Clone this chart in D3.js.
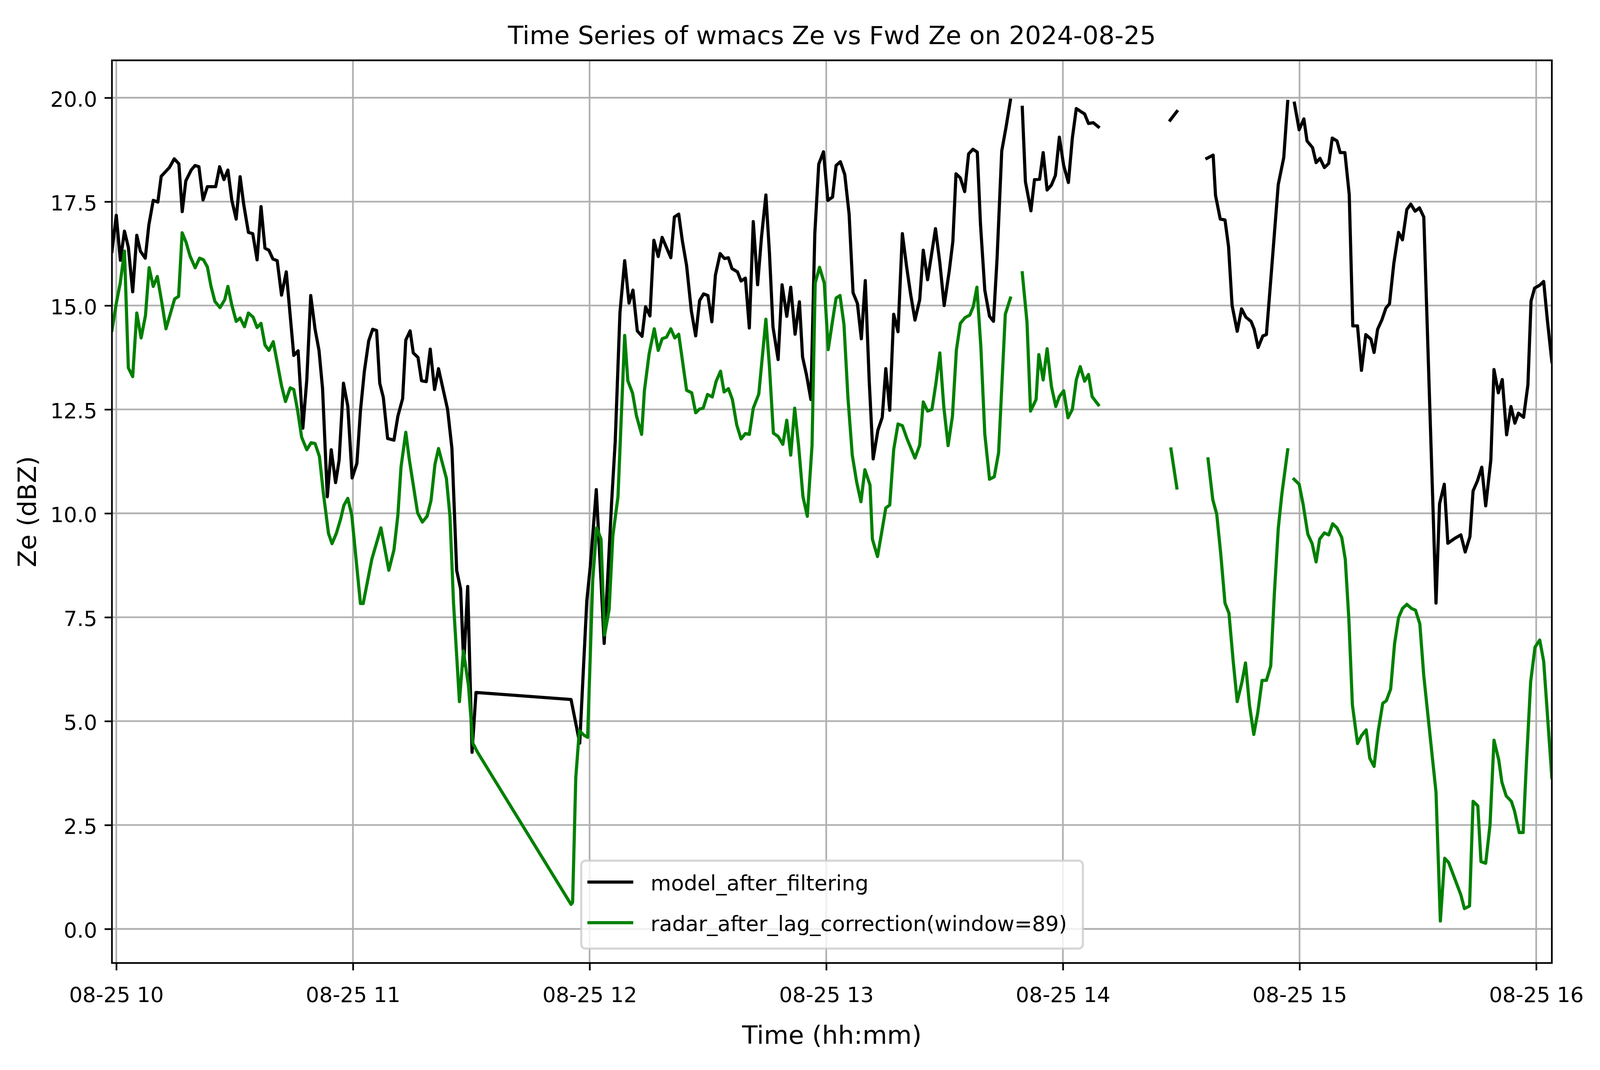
<!DOCTYPE html>
<html>
<head>
<meta charset="utf-8">
<script src="https://cdn.jsdelivr.net/npm/d3@7"></script>
<style>
  html, body { margin: 0; padding: 0; background: #ffffff; width: 100%; height: 100%; overflow: hidden; }
  svg { display: block; }
</style>
</head>
<body>
<svg id="chart"></svg>
<script>
// ---------------- DATA ----------------
// minutes after 2024-08-25 10:00 ; null = missing sample (gap in the line)
const modelMinutes = [-1.1,0,1.04,2.08,3.06,4.16,5.2,6.1,7.35,8.26,9.37,10.54,11.39,13.47,14.7,15.87,16.72,17.63,19.0,19.97,
  20.95,22.0,23.1,25.2,26.2,27.3,28.3,29.3,30.4,31.4,32.3,33.5,34.6,35.7,36.7,37.7,38.7,39.7,40.8,41.9,
  43.1,45.0,46.1,47.3,48.3,49.3,50.4,51.4,52.3,53.5,54.5,55.6,56.5,57.6,58.7,59.8,61.0,61.9,62.9,64.0,
  65.0,66.0,66.8,67.7,68.8,70.4,71.4,72.6,73.4,74.5,75.3,76.5,77.4,78.6,79.6,80.7,81.7,84.0,85.1,86.3,
  87.3,88.1,89.1,90.2,91.2,115.3,117.5,119.3,120.2,121.7,122.7,123.7,124.7,125.6,126.5,127.7,128.9,130.0,131.0,132.1,
  133.3,134.2,135.3,136.3,137.4,138.4,140.6,141.5,142.6,143.5,144.6,145.8,146.9,147.9,148.9,150.0,151.0,151.9,153.1,154.2,
  155.2,156.1,157.5,158.4,159.5,160.5,161.5,162.6,163.6,164.7,165.6,166.5,167.8,168.8,170.0,171.0,172.1,173.2,174.0,175.0,
  176.1,177.1,178.1,179.3,180.4,181.6,182.5,183.6,184.7,185.8,186.8,187.9,188.9,189.9,190.9,191.9,193.1,194.2,195.1,196.1,
  197.1,198.2,199.3,200.4,201.4,202.5,203.7,204.6,205.7,206.7,207.7,208.8,209.9,211.2,212.1,212.9,214.0,215.1,216.1,217.2,
  218.3,219.1,220.2,221.4,222.4,223.3,224.5,225.6,226.7,228.2,229.7,230.5,231.9,232.8,234.1,235.0,236.0,237.1,238.1,239.1,
  240.2,241.4,242.4,243.4,244.5,245.5,246.5,247.7,249.0,258.0,267.2,268.9,272.5,276.5,278.1,278.7,279.9,281.1,282.0,282.9,
  284.2,285.3,286.4,287.7,288.5,289.5,290.7,291.6,292.8,294.6,296.0,297.0,297.9,298.7,299.9,301.1,301.9,303.3,304.2,305.2,
  306.3,307.4,308.3,309.5,310.3,311.5,312.6,313.5,314.7,315.7,316.8,318.1,318.9,319.8,320.9,321.9,322.8,323.9,325.1,326.1,
  327.2,328.2,329.3,330.4,331.5,334.6,335.5,336.7,337.6,339.4,340.9,342.0,343.2,344.0,345.1,346.2,347.2,348.5,349.3,350.4,
  351.4,352.5,353.6,354.6,355.5,356.8,357.9,358.7,359.6,360.9,361.9,362.8,363.97];
const modelZe = [16.3,17.17,16.09,16.79,16.40,15.33,16.69,16.31,16.14,16.94,17.53,17.49,18.11,18.32,18.53,18.41,17.26,18.0,18.26,18.37,
  18.34,17.54,17.86,17.86,18.34,18.03,18.26,17.53,17.08,18.1,17.44,16.76,16.73,16.1,17.38,16.38,16.33,16.12,16.08,15.25,
  15.81,13.80,13.91,12.05,13.21,15.24,14.43,13.92,13.0,10.40,11.53,10.74,11.28,13.13,12.58,10.85,11.2,12.46,13.42,14.15,
  14.43,14.40,13.13,12.79,11.80,11.76,12.34,12.76,14.17,14.39,13.86,13.75,13.19,13.17,13.95,12.98,13.48,12.5,11.56,8.63,
  8.18,6.35,8.24,4.25,5.69,5.52,4.47,7.90,8.74,10.57,8.74,6.87,8.63,10.29,11.73,14.83,16.08,15.06,15.37,14.39,
  14.26,14.97,14.75,16.57,16.18,16.64,16.15,17.13,17.2,16.57,15.96,14.87,14.27,15.12,15.28,15.24,14.61,15.73,16.25,16.13,
  16.15,15.89,15.81,15.59,15.66,14.46,17.02,15.5,16.66,17.66,16.27,14.48,13.70,15.5,14.74,15.44,14.31,15.09,13.76,13.33,
  12.74,16.72,18.4,18.7,17.53,17.61,18.37,18.46,18.15,17.2,15.31,15.05,14.2,15.6,13.18,11.31,12.0,12.31,13.48,12.48,
  14.79,14.37,16.73,15.92,15.27,14.65,15.14,16.33,15.62,16.23,16.85,16.03,15.0,15.84,16.54,18.17,18.07,17.74,18.65,18.76,
  18.69,16.97,15.37,14.74,14.62,16.11,18.72,19.30,19.94,null,19.77,17.98,17.28,18.03,18.04,18.68,17.78,17.90,18.13,19.05,
  18.37,17.96,19.03,19.74,19.67,19.61,19.38,19.40,19.30,null,19.46,19.67,null,18.54,18.62,17.65,17.08,17.06,16.42,15.0,
  14.38,14.92,14.72,14.62,14.43,13.99,14.27,14.30,15.73,17.91,18.56,19.91,null,19.87,19.23,19.49,18.96,18.80,18.44,18.54,
  18.32,18.42,19.03,18.96,18.68,18.68,17.67,14.51,14.51,13.44,14.30,14.19,13.87,14.43,14.66,14.94,15.04,16.01,16.76,16.58,
  17.31,17.44,17.27,17.35,17.13,7.84,10.23,10.70,9.28,9.40,9.48,9.07,9.44,10.54,10.78,11.11,10.18,11.28,13.46,12.90,
  13.22,11.89,12.57,12.17,12.41,12.31,13.09,15.11,15.42,15.49,15.58,14.68,13.65];

const radarMinutes = [-1.1,0,1.0,2.08,3.06,4.16,5.2,6.3,7.4,8.33,9.37,10.4,11.5,12.6,13.7,14.8,15.8,16.7,17.7,18.7,
  20.0,21.1,22.1,23.1,24.0,25.0,26.3,27.5,28.3,29.3,30.4,31.4,32.5,33.5,34.7,35.7,36.7,37.7,38.7,39.8,
  40.8,41.9,42.9,44.1,45.0,46.0,47.0,48.3,49.4,50.4,51.5,52.5,53.8,54.7,55.8,56.9,57.7,58.7,59.7,61.9,
  62.6,64.8,67.1,69.1,70.4,71.4,72.2,73.4,74.3,76.4,77.6,78.8,79.8,80.8,81.7,83.7,84.6,85.5,87.0,88.0,
  89.3,90.4,91.6,115.3,115.7,116.5,117.4,118.6,119.5,120.8,121.8,122.9,123.8,124.95,125.9,127.2,128.9,129.7,130.9,131.9,
  133.2,133.9,135.1,136.4,137.4,138.4,139.5,140.6,141.6,142.6,144.6,145.9,146.9,147.9,148.8,149.9,151.1,152.1,153.2,154.1,
  155.2,156.2,157.3,158.4,159.5,160.5,161.5,162.9,164.7,165.6,166.6,167.8,169.0,170.0,171.0,172.0,173.0,174.1,175.2,176.4,
  177.2,178.3,179.5,180.5,181.5,182.5,183.5,184.5,185.5,186.6,187.7,188.8,189.8,191.1,191.7,193.0,194.0,195.1,196.1,197.1,
  198.2,199.3,200.5,202.5,203.7,204.6,205.7,206.8,207.8,208.8,209.8,210.9,212.0,213.0,214.0,215.2,216.4,217.3,218.2,219.2,
  220.2,221.4,222.6,223.7,225.4,226.7,228.2,229.7,230.9,231.8,233.2,233.9,235.0,236.0,237.1,238.2,239.1,240.2,241.3,242.4,
  243.4,244.4,245.5,246.5,247.4,249.0,258.0,267.4,268.9,272.5,276.8,278.0,279.0,280.0,281.1,282.1,283.2,284.2,285.4,286.3,
  287.3,288.4,289.4,290.5,291.6,292.7,293.6,294.6,295.5,297.0,297.9,298.6,299.9,300.9,302.1,303.2,304.2,305.1,306.3,307.4,
  308.4,309.5,310.7,311.6,312.5,313.4,314.7,315.7,316.9,317.8,318.9,319.9,321.1,322.0,323.1,324.1,325.1,326.1,327.2,328.4,
  329.4,330.5,331.5,334.6,335.7,336.8,337.8,340.9,341.8,343.1,344.0,345.2,346.0,347.2,348.3,349.3,350.5,351.3,352.4,353.7,
  354.5,355.7,356.7,357.5,358.6,359.7,360.9,361.9,363.97];
const radarZe = [14.4,15.05,15.54,16.31,13.50,13.29,14.82,14.22,14.76,15.91,15.46,15.70,15.10,14.44,14.80,15.16,15.22,16.75,16.52,16.19,
  15.91,16.14,16.10,15.93,15.47,15.10,14.95,15.14,15.46,15.01,14.62,14.70,14.49,14.82,14.72,14.47,14.57,14.05,13.92,14.13,
  13.63,13.07,12.69,13.02,12.98,12.46,11.83,11.53,11.70,11.68,11.37,10.49,9.52,9.27,9.52,9.87,10.19,10.36,9.96,7.83,
  7.83,8.9,9.65,8.63,9.12,9.96,11.12,11.95,11.29,10.01,9.79,9.93,10.31,11.18,11.56,10.84,9.93,7.85,5.47,6.69,
  5.85,4.47,4.25,0.59,0.64,3.64,4.77,4.66,4.61,8.40,9.65,9.38,7.07,7.68,9.46,10.40,14.28,13.19,12.89,12.34,
  11.90,12.95,13.84,14.44,13.92,14.2,14.24,14.44,14.22,14.31,12.96,12.9,12.42,12.51,12.53,12.86,12.8,13.18,13.42,12.92,
  13.0,12.74,12.13,11.79,11.92,11.9,12.53,12.87,14.67,13.53,11.93,11.85,11.66,12.24,11.40,12.53,11.62,10.40,9.93,11.63,
  15.54,15.92,15.54,13.94,14.57,15.18,15.24,14.54,12.79,11.40,10.76,10.28,11.05,10.68,9.38,8.96,9.51,10.13,10.2,11.53,
  12.15,12.11,11.79,11.33,11.64,12.68,12.46,12.50,13.12,13.86,12.57,11.63,12.34,13.93,14.57,14.71,14.77,14.98,15.44,14.01,
  11.91,10.82,10.88,11.46,14.79,15.18,null,15.79,14.60,12.46,12.74,13.82,13.21,13.96,13.05,12.57,12.81,12.95,12.30,12.5,
  13.21,13.53,13.18,13.34,12.81,12.61,null,11.55,10.61,null,11.31,10.33,9.98,9.05,7.84,7.60,6.42,5.47,5.94,6.40,
  5.39,4.68,5.20,5.98,5.98,6.33,8.04,9.63,10.45,11.53,null,10.82,10.70,10.22,9.50,9.27,8.83,9.38,9.53,9.48,
  9.75,9.65,9.42,8.89,7.46,5.39,4.46,4.65,4.79,4.11,3.91,4.73,5.43,5.49,5.77,6.87,7.49,7.71,7.81,7.71,
  7.67,7.34,6.09,3.29,0.19,1.70,1.60,0.82,0.49,0.55,3.07,2.96,1.62,1.58,2.51,4.54,4.07,3.53,3.20,3.07,
  2.84,2.32,2.32,3.95,5.95,6.78,6.95,6.44,3.64];

const yTickValues = [0, 2.5, 5, 7.5, 10, 12.5, 15, 17.5, 20];
const yLimits = [-0.82, 20.9];
const seriesNames = ["model_after_filtering", "radar_after_lag_correction(window=89)"];
const seriesColors = ["#000000", "#008000"];
const titleText = "Time Series of wmacs Ze vs Fwd Ze on 2024-08-25";
const xLabelText = "Time (hh:mm)";
const yLabelText = "Ze (dBZ)";

// ---------------- LAYOUT (reference frame 5167 x 2740, fitted to the window) ----------------
const REF_W = 5167, REF_H = 2740;
const W = window.innerWidth || REF_W, H = window.innerHeight || REF_H;
const sx = W / REF_W, sy = H / REF_H, k = Math.min(sx, sy);
const plot = { left: 361.5 * sx, right: 5011.5 * sx, top: 154.5 * sy, bottom: 2466 * sy };
const FONT = "DejaVu Sans, Verdana, sans-serif";
const LW = 10.2 * k, GRID_W = 5.44 * k, SPINE_W = 5.44 * k, TICK_LEN = 23.8 * k;
const TICK_FS = 68 * k, LABEL_FS = 81.7 * k, LEGEND_FS = 68 * k;

const base = Date.UTC(2024, 7, 25, 10, 0, 0);
const toDate = m => new Date(base + m * 60000);

const model = modelMinutes.map((m, i) => ({ t: toDate(m), v: modelZe[i] }));
const radar = radarMinutes.map((m, i) => ({ t: toDate(m), v: radarZe[i] }));

const svg = d3.select("#chart").attr("width", W).attr("height", H);
svg.append("rect").attr("width", W).attr("height", H).attr("fill", "#ffffff");

const x = d3.scaleUtc()
  .domain(d3.extent(modelMinutes.concat(radarMinutes)).map(toDate))
  .range([plot.left, plot.right]);
const y = d3.scaleLinear().domain(yLimits).range([plot.bottom, plot.top]);

const xTicks = x.ticks(d3.utcHour.every(1));

// clip
svg.append("defs").append("clipPath").attr("id", "clip")
  .append("rect")
  .attr("x", plot.left).attr("y", plot.top)
  .attr("width", plot.right - plot.left).attr("height", plot.bottom - plot.top);

// grid
const grid = svg.append("g").attr("stroke", "#b0b0b0").attr("stroke-width", GRID_W);
grid.selectAll("line.vx").data(xTicks).join("line")
  .attr("x1", d => x(d)).attr("x2", d => x(d))
  .attr("y1", plot.top).attr("y2", plot.bottom);
grid.selectAll("line.hy").data(yTickValues).join("line")
  .attr("x1", plot.left).attr("x2", plot.right)
  .attr("y1", d => y(d)).attr("y2", d => y(d));

// lines
const lineGen = d3.line()
  .defined(d => d.v !== null)
  .x(d => x(d.t)).y(d => y(d.v));

const linesG = svg.append("g").attr("clip-path", "url(#clip)");
[model, radar].forEach((ser, i) => {
  linesG.append("path")
    .datum(ser)
    .attr("d", lineGen)
    .attr("fill", "none")
    .attr("stroke", seriesColors[i])
    .attr("stroke-width", LW)
    .attr("stroke-linejoin", "round")
    .attr("stroke-linecap", "square");
});

// axes
const xAxis = d3.axisBottom(x)
  .tickValues(xTicks)
  .tickFormat(d3.utcFormat("%m-%d %H"))
  .tickSize(TICK_LEN).tickSizeOuter(0);
const gx = svg.append("g").attr("transform", `translate(0,${plot.bottom})`).call(xAxis);
gx.select(".domain").remove();
gx.selectAll(".tick line").attr("stroke", "#000").attr("stroke-width", SPINE_W);
gx.selectAll(".tick text")
  .attr("y", 2566 * sy - plot.bottom).attr("dy", null)
  .attr("font-family", FONT).attr("font-size", TICK_FS).attr("fill", "#000");

const yAxis = d3.axisLeft(y)
  .tickValues(yTickValues)
  .tickFormat(d3.format(".1f"))
  .tickSize(TICK_LEN).tickSizeOuter(0);
const gy = svg.append("g").attr("transform", `translate(${plot.left},0)`).call(yAxis);
gy.select(".domain").remove();
gy.selectAll(".tick line").attr("stroke", "#000").attr("stroke-width", SPINE_W);
gy.selectAll(".tick text")
  .attr("x", -(TICK_LEN + 24 * k)).attr("y", 28 * k).attr("dy", null)
  .attr("text-anchor", "end")
  .attr("font-family", FONT).attr("font-size", TICK_FS).attr("fill", "#000");

// spines
svg.append("rect")
  .attr("x", plot.left).attr("y", plot.top)
  .attr("width", plot.right - plot.left).attr("height", plot.bottom - plot.top)
  .attr("fill", "none").attr("stroke", "#000").attr("stroke-width", SPINE_W)
  .attr("stroke-linejoin", "miter");

// title & labels
const cx = (plot.left + plot.right) / 2;
svg.append("text").attr("x", cx).attr("y", 113 * sy)
  .attr("text-anchor", "middle").attr("font-family", FONT).attr("font-size", LABEL_FS)
  .attr("fill", "#000").text(titleText);
svg.append("text").attr("x", cx).attr("y", 2673 * sy)
  .attr("text-anchor", "middle").attr("font-family", FONT).attr("font-size", LABEL_FS)
  .attr("fill", "#000").text(xLabelText);
svg.append("text")
  .attr("transform", `translate(${116 * sx},${(plot.top + plot.bottom) / 2}) rotate(-90)`)
  .attr("text-anchor", "middle").attr("font-family", FONT).attr("font-size", LABEL_FS)
  .attr("fill", "#000").text(yLabelText);

// legend
const lg = svg.append("g");
lg.append("rect")
  .attr("x", 1877 * sx).attr("y", 2204 * sy).attr("width", 1620 * sx).attr("height", 225 * sy)
  .attr("rx", 14 * k).attr("ry", 14 * k)
  .attr("fill", "#ffffff").attr("fill-opacity", 0.8)
  .attr("stroke", "#cccccc").attr("stroke-opacity", 0.8).attr("stroke-width", 6.8 * k);
const legendRows = [2258.7 * sy, 2362.7 * sy];
seriesNames.forEach((name, i) => {
  lg.append("line")
    .attr("x1", 1902 * sx).attr("x2", 2040 * sx)
    .attr("y1", legendRows[i]).attr("y2", legendRows[i])
    .attr("stroke", seriesColors[i]).attr("stroke-width", LW)
    .attr("stroke-linecap", "square");
  lg.append("text")
    .attr("x", 2101 * sx).attr("y", legendRows[i] + 26.5 * k)
    .attr("font-family", FONT).attr("font-size", LEGEND_FS).attr("fill", "#000")
    .text(name);
});
</script>
</body>
</html>
